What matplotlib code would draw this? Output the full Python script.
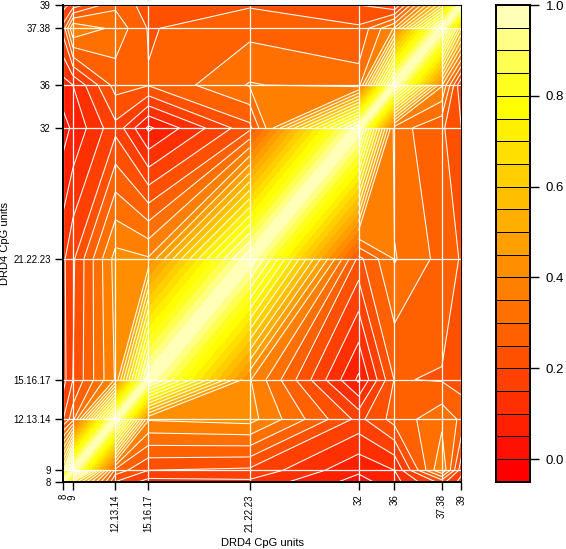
import numpy as np
import matplotlib
matplotlib.use('Agg')
import matplotlib.pyplot as plt
from matplotlib.colors import ListedColormap, BoundaryNorm, hsv_to_rgb
from matplotlib.tri import Triangulation

plt.rcParams['font.family'] = ['Liberation Sans', 'DejaVu Sans']

unit_labels = ['8', '9', '12.13.14', '15.16.17', '21.22.23', '32', '36', '37.38', '39']
# relative position of each unit along the sequence
unit_pos = np.array([0.0, 2.4, 13.1, 21.4, 46.8, 74.2, 83.2, 95.1, 100.0])

# upper triangle of the correlation matrix, values right of the diagonal
row_8 = [0.65, 0.20, 0.13, 0.14, 0.03, 0.08, 0.22, 0.13]
row_9 = [0.28, 0.20, 0.19, 0.06, 0.10, 0.40, 0.17]
row_12 = [0.405, 0.42, 0.185, 0.27, 0.334, 0.29]
row_15 = [0.405, 0.04, 0.253, 0.246, 0.225]
row_21 = [0.235, 0.354, 0.283, 0.245]
row_32 = [0.325, 0.259, 0.20]
row_36 = [0.405, 0.15]
row_37 = [0.60]

levels = np.arange(-0.05, 1.0001, 0.05)
bar_ticks = [0.0, 0.2, 0.4, 0.6, 0.8, 1.0]
pale_sat = [0.88, 0.68, 0.48, 0.28]


def heat_colors(n):
    # red to yellow, then paler yellows at the top
    i = n - len(pale_sat)
    cols = [hsv_to_rgb((k / (i - 1) / 6, 1, 1)) for k in range(i)]
    for s in pale_sat:
        cols.append(hsv_to_rgb((1 / 6, s, 1)))
    return cols


rows = [row_8, row_9, row_12, row_15, row_21, row_32, row_36, row_37]
n = len(unit_pos)
z = np.eye(n)
for a, vals in enumerate(rows):
    for b, v in enumerate(vals):
        z[a, a + 1 + b] = v
        z[a + 1 + b, a] = v

cols = heat_colors(len(levels) - 1)
cmap = ListedColormap(cols)
norm = BoundaryNorm(levels, cmap.N)

fig = plt.figure(figsize=(5.66, 5.49), dpi=100)
ax = fig.add_axes([63.3 / 566, 1 - 481.7 / 549, 398 / 566, 476.7 / 549])

for a in range(n - 1):
    for b in range(n - 1):
        xs = unit_pos[a:a + 2]
        ys = unit_pos[b:b + 2]
        cell = z[b:b + 2, a:a + 2]
        if a == b:
            # split along the diagonal so the bands run parallel to it
            xx, yy = np.meshgrid(xs, ys)
            tri = Triangulation(xx.ravel(), yy.ravel(), [[0, 1, 3], [0, 3, 2]])
            ax.tricontourf(tri, cell.ravel(), levels=levels, cmap=cmap, norm=norm, antialiased=False)
        else:
            ax.contourf(xs, ys, cell, levels=levels, cmap=cmap, norm=norm, antialiased=False)
            ax.contour(xs, ys, cell, levels=levels, colors='white', linewidths=0.75, linestyles='solid')

for p in unit_pos:
    ax.axvline(p, color='white', lw=0.9)
    ax.axhline(p, color='white', lw=0.9)

ax.set_xlim(unit_pos[0], unit_pos[-1])
ax.set_ylim(unit_pos[0], unit_pos[-1])
ax.set_xticks(unit_pos)
ax.set_xticklabels(unit_labels, rotation=90, fontsize=6.9)
ax.set_yticks(unit_pos)
ax.set_yticklabels(unit_labels, fontsize=6.9)
ax.tick_params(length=6, width=1, pad=3)
ax.set_xlabel('DRD4 CpG units', fontsize=8)
ax.set_ylabel('DRD4 CpG units', fontsize=8)
ax.xaxis.set_label_coords(0.5, -0.118)
ax.yaxis.set_label_coords(-0.135, 0.5)
ax.spines['top'].set_linewidth(0.8)
ax.spines['right'].set_linewidth(0.8)
ax.spines['left'].set_linewidth(1.4)
ax.spines['bottom'].set_linewidth(1.4)

cax = fig.add_axes([495.7 / 566, 1 - 481.7 / 549, 34.3 / 566, 476.7 / 549])
cax.pcolormesh([0, 1], levels, np.array(levels[:-1]).reshape(-1, 1) + 0.025, cmap=cmap, norm=norm,
               edgecolors='black', linewidth=0.7)
cax.set_xlim(0, 1)
cax.set_ylim(levels[0], levels[-1])
cax.set_xticks([])
cax.yaxis.tick_right()
cax.set_yticks(bar_ticks)
cax.set_yticklabels(['%.1f' % t for t in bar_ticks], fontsize=9.5)
cax.tick_params(length=6.5, width=1, pad=5)
for s in cax.spines.values():
    s.set_linewidth(1.4)

fig.savefig('out.png', dpi=100)
